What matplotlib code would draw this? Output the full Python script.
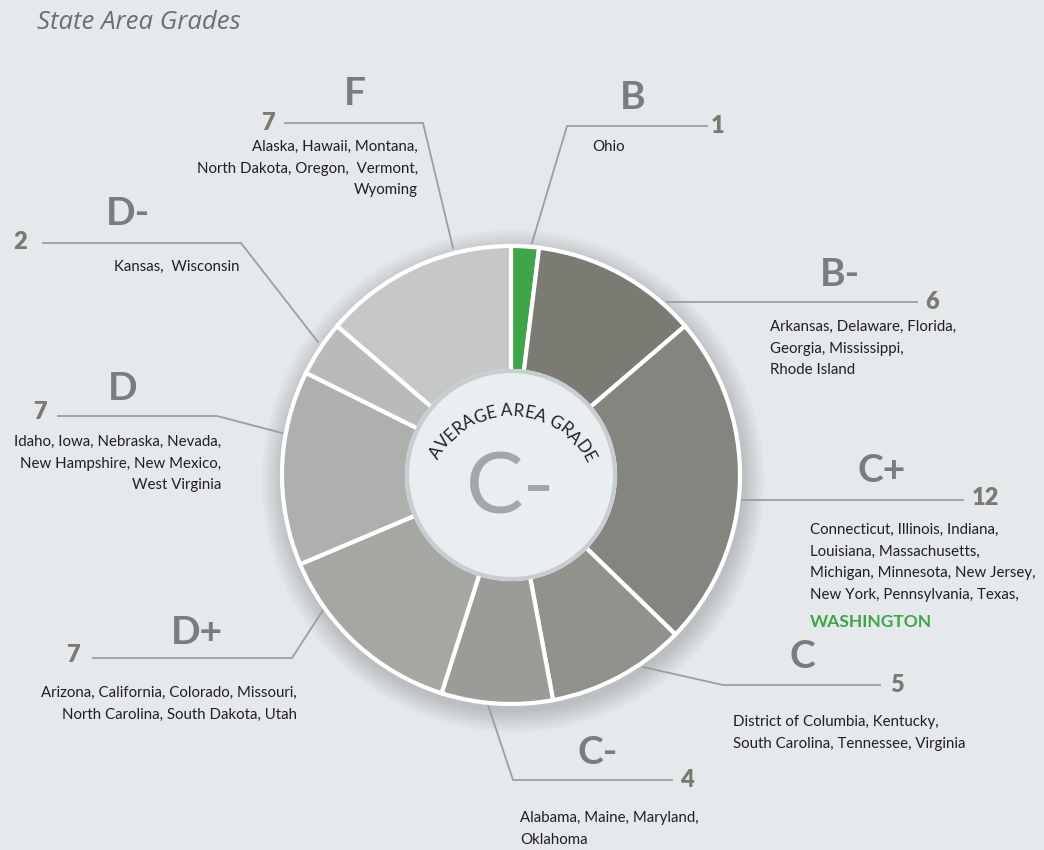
import matplotlib
matplotlib.use('Agg')
import matplotlib.pyplot as plt
from matplotlib.patches import Circle
from matplotlib.font_manager import FontProperties
from matplotlib.textpath import TextToPath
import numpy as np

# data
grades = ['B', 'B-', 'C+', 'C', 'C-', 'D+', 'D', 'D-', 'F']
counts = [1, 6, 12, 5, 4, 7, 7, 2, 7]
states = [
    ['Ohio'],
    ['Arkansas, Delaware, Florida,', 'Georgia, Mississippi,', 'Rhode Island'],
    ['Connecticut, Illinois, Indiana,', 'Louisiana, Massachusetts,',
     'Michigan, Minnesota, New Jersey,', 'New York, Pennsylvania, Texas,', 'WASHINGTON'],
    ['District of Columbia, Kentucky,', 'South Carolina, Tennessee, Virginia'],
    ['Alabama, Maine, Maryland,', 'Oklahoma'],
    ['Arizona, California, Colorado, Missouri,', 'North Carolina, South Dakota, Utah'],
    ['Idaho, Iowa, Nebraska, Nevada,', 'New Hampshire, New Mexico,', 'West Virginia'],
    ['Kansas,  Wisconsin'],
    ['Alaska, Hawaii, Montana,', 'North Dakota, Oregon,  Vermont,', 'Wyoming'],
]
highlight = 'WASHINGTON'
average_grade = 'C-'
center_caption = 'AVERAGE AREA GRADE'

# styles
colors = ['#3ea548', '#7b7b73', '#85857f', '#91928c', '#9b9c97',
          '#a5a7a3', '#aeb0ad', '#b9bbba', '#c6c8c7']
cx, cy = 511, 475
R_out, R_in = 229, 104

# label layout: letter pos, count pos, leader line, text x, first line y, alignment
layout = [
    ((633, 97), (718, 126), [(532, 243), (567, 126), (707, 126)], 592, 147, 'left'),
    ((840, 275), (932, 302), [(667, 302), (917, 302)], 770, 327, 'left'),
    ((882, 470), (985, 498), [(742, 500), (963, 500)], 810, 530, 'left'),
    ((802, 657), (897, 685), [(643, 667), (723, 685), (880, 685)], 733, 722, 'left'),
    ((598, 753), (687, 780), [(488, 705), (513, 780), (672, 780)], 520, 818, 'left'),
    ((197, 632), (73, 655), [(325, 607), (292, 658), (93, 658)], 297, 693, 'right'),
    ((123, 388), (40, 412), [(282, 433), (217, 416), (58, 416)], 221, 442, 'right'),
    ((128, 213), (20, 242), [(318, 342), (241, 243), (43, 243)], 114, 267, 'left'),
    ((355, 93), (268, 123), [(453, 248), (423, 123), (285, 123)], 418, 147, 'right'),
]

fig = plt.figure(figsize=(10.44, 8.5), dpi=100)
fig.patch.set_facecolor('#e5e9eb')
ax = fig.add_axes([0, 0, 1, 1])
ax.set_facecolor('#e5e9eb')

# soft shadow under the donut
for k in range(14):
    ax.add_patch(Circle((cx + 2, cy + 6), R_out + 2 + k * 1.6, color='#000000',
                        alpha=0.010, lw=0, zorder=0))

ax.pie(counts, colors=colors, startangle=-90, counterclock=True, radius=R_out,
       center=(cx, cy),
       wedgeprops=dict(width=R_out - R_in, edgecolor='white', linewidth=3, zorder=2))

ax.set_xlim(0, 1044)
ax.set_ylim(850, 0)
ax.set_aspect('equal')
ax.axis('off')

ax.add_patch(Circle((cx, cy), R_in, facecolor='#e9eef1', edgecolor='#c8cdd1',
                    lw=3, zorder=3))

line_h = 21.7
for i, g in enumerate(grades):
    lp, cp, path, tx, ty, align = layout[i]
    xs, ys = zip(*path)
    ax.plot(xs, ys, color='#9c9ea0', lw=1.3, zorder=1, solid_joinstyle='miter')
    ax.text(lp[0], lp[1], g, ha='center', va='center', fontsize=28,
            fontfamily='Lato', fontweight='bold', color='#7b7c7f', zorder=4)
    ax.text(cp[0], cp[1], str(counts[i]), ha='center', va='center', fontsize=17,
            fontfamily='Lato', fontweight='heavy', color='#7a7a72', zorder=4)
    for j, s in enumerate(states[i]):
        if s == highlight:
            ax.text(tx, ty + j * line_h + 5, s, ha=align, va='center', fontsize=12.5,
                    fontfamily='Lato', fontweight='bold', color='#3ea548', zorder=4)
        else:
            ax.text(tx, ty + j * line_h, s, ha=align, va='center', fontsize=10.8,
                    fontfamily='Lato', color='#231f20', zorder=4)

# center grade
ax.text(cx, cy + 14, average_grade, ha='center', va='center', fontsize=62,
        fontfamily='Lato', color='#a3a6ab', zorder=5)

# curved caption
fs_cap = 12.3
fp = FontProperties(family='Lato', size=fs_cap)
ttp = TextToPath()
widths = []
for ch in center_caption:
    if ch == ' ':
        widths.append(fs_cap * 0.3 * 100 / 72)
    else:
        w, h, d = ttp.get_text_width_height_descent(ch, fp, ismath=False)
        widths.append(w * 100 / 72)
arc_r = 83
acx, acy = 511, 499
track = -0.3
total = (sum(widths) + track * (len(widths) - 1)) / arc_r
phi = np.deg2rad(88.5) + total / 2
for ch, w in zip(center_caption, widths):
    pc = phi - (w / 2) / arc_r
    x = acx + arc_r * np.cos(pc)
    y = acy - arc_r * np.sin(pc)
    ax.text(x, y, ch, fontproperties=fp, color='#231f20', ha='center', va='baseline',
            rotation=np.rad2deg(pc) - 90, rotation_mode='anchor', zorder=6)
    phi -= (w + track) / arc_r

ax.text(37, 22, 'State Area Grades', ha='left', va='center', fontsize=18.5,
        fontfamily='Open Sans', fontstyle='italic', color='#6d6e71')

fig.savefig('out.png', dpi=100, facecolor=fig.get_facecolor())
